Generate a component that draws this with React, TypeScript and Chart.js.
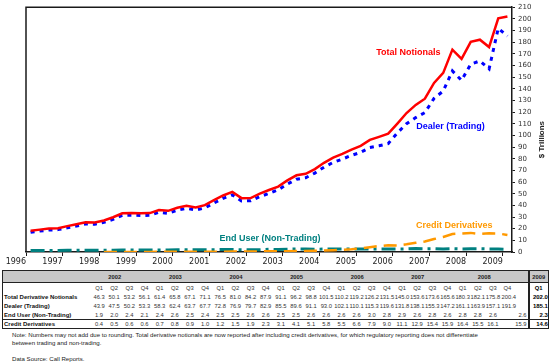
import React, { useEffect, useRef } from "react";
import { Chart, registerables } from "chart.js";

Chart.register(...registerables);

const yearLabels = ["1996", "1997", "1998", "1999", "2000", "2001", "2002", "2003", "2004", "2005", "2006", "2007", "2008", "2009"];
const tableYears = ["2002", "2003", "2004", "2005", "2006", "2007", "2008"];
const quarterLabels = ["Q1", "Q2", "Q3", "Q4"];
const lastYear = "2009";

// 1996 Q1 - 2001 Q4
const totalEarly = [18.3, 19.2, 20.2, 20.4, 22.2, 23.8, 25.5, 25.3, 27.0, 29.8, 33.2, 33.4, 33.2, 33.4, 36.0, 35.3, 38.0, 39.6, 38.2, 40.2, 44.5, 48.5, 51.6, 46.2];
const dealerEarly = [17.0, 18.0, 18.8, 19.2, 20.8, 22.3, 24.0, 23.8, 25.4, 28.0, 31.4, 31.6, 31.3, 31.5, 34.0, 33.2, 35.8, 37.4, 36.0, 37.8, 42.0, 46.0, 49.0, 43.8];
const endUserEarly = [1.2, 1.2, 1.3, 1.3, 1.4, 1.4, 1.5, 1.5, 1.6, 1.6, 1.7, 1.7, 1.7, 1.8, 1.8, 1.8, 1.9, 1.9, 1.9, 2.0, 2.0, 2.1, 2.1, 1.9];
const creditEarly = [null, null, null, null, null, null, null, null, 0.1, 0.1, 0.1, 0.1, 0.1, 0.1, 0.2, 0.2, 0.2, 0.3, 0.3, 0.3, 0.3, 0.3, 0.4, 0.4];

// 2002 Q1 - 2008 Q4 (table)
const totalTable = [46.3, 50.1, 53.2, 56.1, 61.4, 65.8, 67.1, 71.1, 76.5, 81.0, 84.2, 87.9, 91.1, 96.2, 98.8, 101.5, 110.2, 119.2, 126.2, 131.5, 145.0, 153.6, 173.6, 165.6, 180.3, 182.1, 175.8, 200.4];
const dealerTable = [43.9, 47.5, 50.2, 53.3, 58.3, 62.4, 63.7, 67.7, 72.8, 76.9, 79.7, 82.9, 85.5, 89.6, 91.1, 93.0, 102.1, 110.1, 115.3, 119.6, 131.8, 138.1, 155.3, 147.2, 161.1, 163.9, 157.1, 191.9];
const endUserTable = [1.9, 2.0, 2.4, 2.1, 2.4, 2.6, 2.5, 2.4, 2.5, 2.5, 2.6, 2.6, 2.5, 2.5, 2.6, 2.6, 2.6, 2.6, 3.0, 2.8, 2.9, 2.6, 2.8, 2.6, 2.8, 2.8, 2.6, 2.6];
const creditTable = [0.4, 0.5, 0.6, 0.6, 0.7, 0.8, 0.9, 1.0, 1.2, 1.5, 1.9, 2.3, 3.1, 4.1, 5.1, 5.8, 5.5, 6.6, 7.9, 9.0, 11.1, 12.9, 15.4, 15.9, 16.4, 15.5, 16.1, 15.9];

// 2009 Q1
const total2009 = 202.0;
const dealer2009 = 185.1;
const endUser2009 = 2.3;
const credit2009 = 14.6;

const rowNames = ["Total Derivative Notionals", "Dealer (Trading)", "End User (Non-Trading)", "Credit Derivatives"];

const totalSeries = [...totalEarly, ...totalTable, total2009];
const dealerSeries = [...dealerEarly, ...dealerTable, dealer2009];
const endUserSeries = [...endUserEarly, ...endUserTable, endUser2009];
const creditSeries = [...creditEarly, ...creditTable, credit2009];

const toPoints = (arr: (number | null)[]) => arr.map((v, i) => ({ x: i, y: v }));

const seriesLabels = [
  { text: "Total Notionals", x: 41.2, y: 171, color: "#ff0000" },
  { text: "Dealer (Trading)", x: 45.8, y: 107.5, color: "#0000ff" },
  { text: "Credit Derivatives", x: 46.2, y: 22.4, color: "#ff9900" },
  { text: "End User (Non-Trading)", x: 26.1, y: 11.2, color: "#008080" },
];

const framePlugin = {
  id: "frame",
  afterDraw(chart: any) {
    const { ctx, chartArea, scales } = chart;
    ctx.save();
    ctx.strokeStyle = "#1a1a1a";
    ctx.lineWidth = 1.5;
    ctx.beginPath();
    ctx.moveTo(chartArea.left, chartArea.bottom);
    ctx.lineTo(chartArea.left, chartArea.top);
    ctx.lineTo(chartArea.right, chartArea.top);
    ctx.stroke();
    ctx.font = "bold 9px 'Liberation Sans', Arial, sans-serif";
    ctx.textAlign = "center";
    ctx.textBaseline = "middle";
    for (const l of seriesLabels) {
      ctx.fillStyle = l.color;
      ctx.fillText(l.text, scales.x.getPixelForValue(l.x), scales.y.getPixelForValue(l.y));
    }
    ctx.translate(542, (chartArea.top + chartArea.bottom) / 2 + 10);
    ctx.rotate(-Math.PI / 2);
    ctx.fillStyle = "#222";
    ctx.font = "bold 8px 'Liberation Sans', Arial, sans-serif";
    ctx.fillText("$ Trillions", 0, 0);
    ctx.restore();
  },
};

function TrendChart() {
  const ref = useRef<HTMLCanvasElement | null>(null);
  useEffect(() => {
    if (!ref.current) return;
    const chart = new Chart(ref.current, {
      type: "line",
      data: {
        datasets: [
          { label: "Total Notionals", data: toPoints(totalSeries), borderColor: "#ff0000", borderWidth: 2.5, pointRadius: 0 },
          { label: "Dealer (Trading)", data: toPoints(dealerSeries), borderColor: "#0000ff", borderWidth: 3, borderDash: [4, 5], pointRadius: 0 },
          { label: "Credit Derivatives", data: toPoints(creditSeries), borderColor: "#ff9900", borderWidth: 2.5, borderDash: [13, 7], pointRadius: 0 },
          { label: "End User (Non-Trading)", data: toPoints(endUserSeries), borderColor: "#008080", borderWidth: 3, borderDash: [14, 5, 3, 5], pointRadius: 0 },
        ] as any,
      },
      options: {
        animation: false,
        responsive: false,
        events: [],
        layout: { padding: { left: 26, top: 7, right: 0, bottom: 0 } },
        plugins: { legend: { display: false }, tooltip: { enabled: false } },
        scales: {
          x: {
            type: "linear",
            min: -0.5,
            max: totalSeries.length - 0.5,
            afterBuildTicks: (scale: any) => {
              scale.ticks = yearLabels.map((_, k) => ({ value: k * 4 - 0.5 }));
            },
            afterFit: (scale: any) => {
              scale.height = 16;
            },
            ticks: {
              autoSkip: false,
              maxRotation: 0,
              align: "end",
              padding: 1,
              color: "#222",
              font: { family: "'DejaVu Sans', Verdana, sans-serif", size: 8 },
              callback: (value: any) => yearLabels[Math.round((Number(value) + 0.5) / 4)] ?? "",
            },
            grid: { drawOnChartArea: false, drawTicks: true, tickLength: 4, color: "#1a1a1a", lineWidth: 1 },
            border: { display: true, color: "#1a1a1a", width: 1.5 },
          },
          y: {
            type: "linear",
            position: "right",
            min: 0,
            max: 210,
            afterFit: (scale: any) => {
              scale.width = 38;
            },
            ticks: {
              stepSize: 10,
              padding: 3,
              color: "#333",
              font: { family: "'DejaVu Sans', Verdana, sans-serif", size: 7 },
            },
            grid: { drawOnChartArea: false, drawTicks: true, tickLength: 3, color: "#1a1a1a", lineWidth: 1 },
            border: { display: true, color: "#1a1a1a", width: 1.5 },
          },
        },
      },
      plugins: [framePlugin],
    });
    return () => chart.destroy();
  }, []);
  return <canvas ref={ref} width={550} height={268} style={{ position: "absolute", left: 0, top: 0 }} />;
}

const fmt = (v: number) => v.toFixed(1);

function DataTable() {
  const rows = [totalTable, dealerTable, endUserTable, creditTable];
  const last = [total2009, dealer2009, endUser2009, credit2009];
  const nCols = totalTable.length;
  const cell: React.CSSProperties = { padding: 0, textAlign: "center", whiteSpace: "nowrap", overflow: "visible" };
  const border = "1px solid #222";
  const lastColAlign = (ri: number): React.CSSProperties =>
    ri < 2 ? { textAlign: "left", paddingLeft: 1 } : { textAlign: "right", paddingRight: 1 };
  return (
    <table
      style={{
        position: "absolute",
        left: 2,
        top: 270,
        width: 546,
        borderCollapse: "collapse",
        tableLayout: "fixed",
        fontFamily: "'Liberation Sans', Arial, sans-serif",
        fontSize: 5.8,
        color: "#333",
        border,
      }}
    >
      <colgroup>
        <col style={{ width: 89 }} />
        {totalTable.map((_, i) => (
          <col key={i} style={{ width: i === nCols - 1 ? 28 : 15.15 }} />
        ))}
        <col style={{ width: 19.9 }} />
      </colgroup>
      <tbody>
        <tr style={{ height: 12, background: "#c8c8c8" }}>
          <td style={{ ...cell, borderBottom: border }} />
          {tableYears.map((y) => (
            <td key={y} colSpan={4} style={{ ...cell, fontWeight: "bold", color: "#222", borderBottom: border, paddingRight: 14 }}>
              {y}
            </td>
          ))}
          <td style={{ ...cell, fontWeight: "bold", color: "#222", borderLeft: "2px solid #222", borderBottom: border }}>{lastYear}</td>
        </tr>
        <tr style={{ height: 10 }}>
          <td style={cell} />
          {totalTable.map((_, i) => (
            <td key={i} style={i === nCols - 1 ? { ...cell, textAlign: "left", paddingLeft: 3 } : cell}>
              {quarterLabels[i % 4]}
            </td>
          ))}
          <td style={{ ...cell, fontWeight: "bold", color: "#000", borderLeft: "2px solid #222" }}>Q1</td>
        </tr>
        {rows.map((r, ri) => (
          <tr key={ri} style={{ height: 9, borderTop: ri === 3 ? border : undefined }}>
            <td style={{ ...cell, textAlign: "left", fontWeight: "bold", fontSize: 6, color: "#111", paddingLeft: 1 }}>{rowNames[ri]}</td>
            {r.map((v, i) => (
              <td key={i} style={i === nCols - 1 ? { ...cell, ...lastColAlign(ri) } : cell}>
                {fmt(v)}
              </td>
            ))}
            <td style={{ ...cell, textAlign: "right", fontWeight: "bold", fontSize: 6, color: "#000", borderLeft: "2px solid #222" }}>{fmt(last[ri])}</td>
          </tr>
        ))}
      </tbody>
    </table>
  );
}

export default function App() {
  return (
    <div style={{ position: "relative", width: 550, height: 362, background: "#fff", overflow: "hidden" }}>
      <style>{`body{margin:0}`}</style>
      <TrendChart />
      <DataTable />
      <div
        style={{
          position: "absolute",
          left: 12,
          top: 331,
          width: 536,
          fontFamily: "'Liberation Sans', Arial, sans-serif",
          fontSize: 6.1,
          lineHeight: "8px",
          color: "#222",
        }}
      >
        <div>
          Note: Numbers may not add due to rounding. Total derivative notionals are now reported after including credit derivatives, for which regulatory reporting does not differentiate
        </div>
        <div>between trading and non-trading.</div>
        <div style={{ marginTop: 8 }}>Data Source: Call Reports.</div>
      </div>
    </div>
  );
}
